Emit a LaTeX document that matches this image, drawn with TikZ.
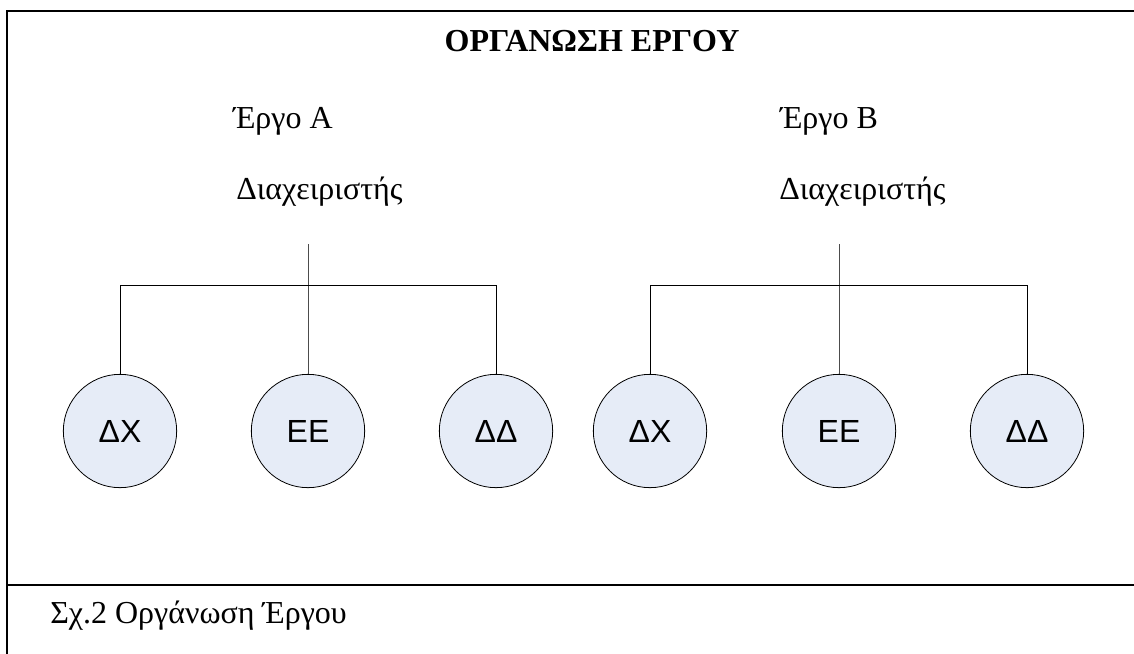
\documentclass[tikz,border=0pt]{standalone}
\usepackage{fontspec}
\setmainfont{Liberation Serif}
\newfontfamily\labelfont{Liberation Sans}
\begin{document}
\begin{tikzpicture}[x=0.75pt,y=-0.75pt,
  frameline/.style={line width=2pt,line cap=rect},
  link/.style={line width=0.75pt,black},
  stem/.style={line width=0.75pt,black!70},
  member/.style={circle,draw=black,line width=0.6pt,fill=memberfill,
    minimum size=85pt,inner sep=0pt,
    font=\labelfont\fontsize{24}{28}\selectfont},
  heading/.style={inner sep=0pt,font=\fontsize{24}{28}\selectfont},
]
\definecolor{memberfill}{RGB}{230,236,247}
\useasboundingbox (0,0) rectangle (1134,653);

% frame and caption divider
\draw[frameline] (7,653) -- (7,11) -- (1134,11);
\draw[frameline] (7,585) -- (1134,585);

% headings
\node[heading,anchor=base,font=\bfseries\fontsize{24}{28}\selectfont] (title) at (592,51) {ΟΡΓΑΝΩΣΗ ΕΡΓΟΥ};
\node[heading,anchor=base west] (projA) at (233,128) {Έργο Α};
\node[heading,anchor=base west] (mgrA) at (236,199) {Διαχειριστής};
\node[heading,anchor=base west] (projB) at (780,128) {Έργο Β};
\node[heading,anchor=base west] (mgrB) at (779,199) {Διαχειριστής};
\node[heading,anchor=base west] (caption) at (50,623) {Σχ.2 Οργάνωση Έργου};

% team members
\node[member] (dxA) at (120,431) {ΔΧ};
\node[member] (eeA) at (308,431) {ΕΕ};
\node[member] (ddA) at (496,431) {ΔΔ};
\node[member] (dxB) at (650,431) {ΔΧ};
\node[member] (eeB) at (839,431) {ΕΕ};
\node[member] (ddB) at (1027,431) {ΔΔ};

% reporting lines
\coordinate (stemA) at (308,244);
\coordinate (stemB) at (839,244);
\coordinate (barA) at (0,285);
\coordinate (barB) at (0,285);

\draw[stem] (stemA) -- (eeA.north);
\draw[link] (dxA.north) -- (dxA.north |- barA) -- (ddA.north |- barA) -- (ddA.north);
\draw[stem] (stemB) -- (eeB.north);
\draw[link] (dxB.north) -- (dxB.north |- barB) -- (ddB.north |- barB) -- (ddB.north);
\end{tikzpicture}
\end{document}
